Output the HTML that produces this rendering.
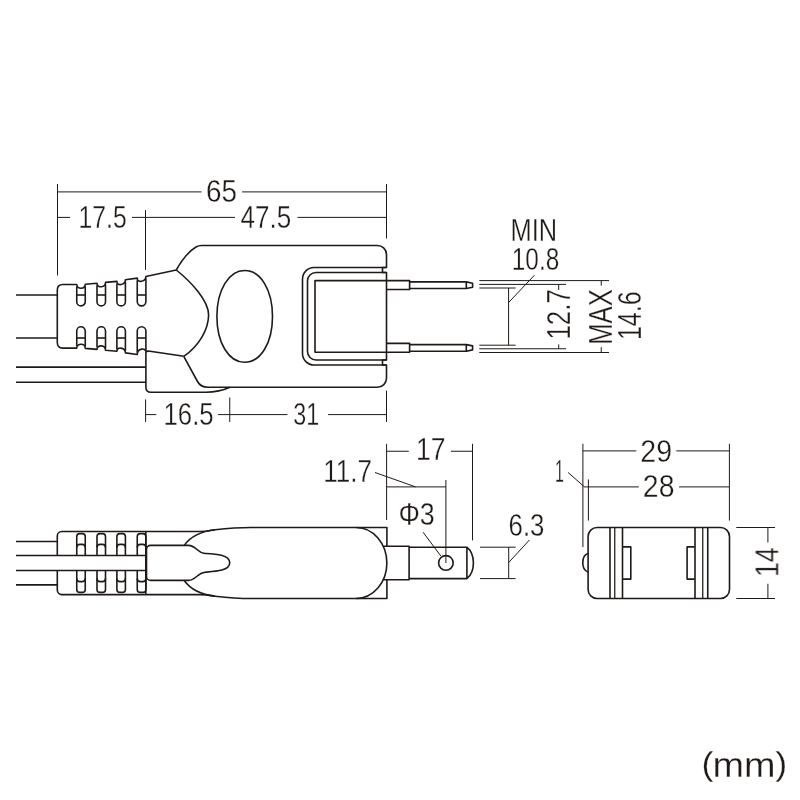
<!DOCTYPE html>
<html lang="ja">
<head>
<meta charset="utf-8">
<title>Plug dimensions (mm)</title>
<style>
html,body{margin:0;padding:0;background:#fff;}
body{width:800px;height:800px;overflow:hidden;}
svg{display:block;}
text{font-family:"Liberation Sans",sans-serif;fill:#1f1a17;stroke:#fff;stroke-width:0.3;stroke-linejoin:round;}
.o path{fill:none;stroke:#1f1a17;stroke-width:1.6;stroke-linejoin:round;stroke-linecap:butt;}
.d path{fill:none;stroke:#1f1a17;stroke-width:1.0;}
.m path{fill:none;stroke:#1f1a17;stroke-width:1.25;}
</style>
</head>
<body>
<svg width="800" height="800" viewBox="0 0 800 800">
<rect width="800" height="800" fill="#fff"/>
<g class="d">
<path d="M57.5 184V275.5 M57.5 191.9H201.6 M242.1 191.9H386.5 M386.5 184V238.5"/>
<path d="M57.5 217.4H70 M132 217.4H235 M297.5 217.4H386.5 M145.5 210V270"/>
<path d="M145.6 399.4V422 M145.6 414.6H156.3 M218.1 414.6H287.5 M328.1 414.6H386.5 M229.75 397.5V422 M386.5 390.6V422"/>
<path d="M479.3 280.6H609 M479.3 284.4H566 M479.3 288H515.6 M479.3 345.2H515.6 M479.3 348.75H566 M479.3 352.5H609"/>
<path d="M508.6 288V345.2 M508.6 302.5L534.4 275.25"/>
<path d="M558.7 284.4V290 M558.7 344.4V348.75 M601.25 280.6V285.6 M601.25 347.25V352.5"/>
<path d="M386.6 443.8V520 M472.5 443.8V540.4 M386.6 451.25H408.75 M451 451.25H472.6"/>
<path d="M386.6 486.9H445.9 M445.9 480V563 M375 472.5L415.6 486.9 M423.1 532.25L440.8 556"/>
<path d="M480 547.2H515.6 M480 578.6H515.6 M508.7 547.2V578.6 M508.7 562.5L529.4 540"/>
<path d="M582.9 443.8V547.1 M729.4 443.8V520.6 M582.9 450.9H636.3 M676.3 450.9H729.4"/>
<path d="M588.4 479.4V520.6 M583.8 486.9H638.8 M679.1 486.9H729.4 M568.1 472.5L583.8 486.3"/>
<path d="M736.3 527.5H775 M736.3 598.5H775 M767.9 527.5V542.5 M767.9 583.75V598.5"/>
</g>
<g class="m">
<path d="M614.75 527.5V598.5 M702.75 527.5V598.5"/>
</g>
<g class="o">
<path d="M16 295H57.3 M16 338H57.3 M16 367.1H145.9 M16 382.3H145.9"/>
<path d="M57.3 316.3V290Q57.3 284.5 62.8 284.5L76.75 284.5C76.75 289.7 85.25 289.45 85.25 284.25L97.0 283.25C97.0 288.45 105.5 287.6 105.5 282.4L116.9 281.4C116.9 286.6 125.4 284.95 125.4 279.75L137.25 278.15C137.25 283.35 145.9 281.7 145.9 276.5L176.25 270M57.3 316.3V342.6Q57.3 348.1 62.8 348.1L76.75 348.1C76.75 342.9 85.25 343.15 85.25 348.35L97.0 349.35C97.0 344.15 105.5 345.0 105.5 350.2L116.9 351.2C116.9 346.0 125.4 347.65 125.4 352.85L137.25 354.45C137.25 348.25 145.9 347.3 145.9 351.8"/>
<path d="M76.75 286.5V301.65A4.25 4.25 0 0 0 85.25 301.65V286.25"/>
<path d="M76.75 295H85.25"/>
<path d="M76.75 346.1V330.95A4.25 4.25 0 0 1 85.25 330.95V346.35"/>
<path d="M76.75 338H85.25"/>
<path d="M97.0 285.25V301.65A4.25 4.25 0 0 0 105.5 301.65V284.4"/>
<path d="M97.0 295H105.5"/>
<path d="M97.0 347.35V330.95A4.25 4.25 0 0 1 105.5 330.95V348.2"/>
<path d="M97.0 338H105.5"/>
<path d="M116.9 283.4V301.65A4.25 4.25 0 0 0 125.4 301.65V281.75"/>
<path d="M116.9 295H125.4"/>
<path d="M116.9 349.2V330.95A4.25 4.25 0 0 1 125.4 330.95V350.85"/>
<path d="M116.9 338H125.4"/>
<path d="M137.25 280.15V301.57A4.325000000000003 4.325000000000003 0 0 0 145.9 301.57V278.5"/>
<path d="M137.25 295H145.9"/>
<path d="M137.25 352.45V331.02A4.325000000000003 4.325000000000003 0 0 1 145.9 331.02V351"/>
<path d="M137.25 338H145.9"/>
<path d="M176.25 270C183 258 190 250.5 196 247C198 245.8 199.5 245.5 201.5 245.5H377.5A9 9 0 0 1 386.5 254.5V267.5H382.5V272.5H386.5V360H382.5V365H386.5V378.3A9 9 0 0 1 377.5 387.3H208C203 387.3 200 386 197.5 381.5L183.75 356.3"/>
<path d="M176.25 270C190 281 208.6 300 208.6 315C208.6 329 199 346 183.75 356.3"/>
<path d="M145.9 351.8V387.2Q145.9 392.2 150.9 392.2H206C215 392.2 223 390.5 230 387.3"/>
<path d="M145.9 351.8Q147 350.8 150 351.3L183.75 356.3"/>
<path d="M216.89999999999998 316.4C216.89999999999998 290.01 228.71 270.5 244.7 270.5C260.69 270.5 272.5 290.01 272.5 316.4C272.5 342.79 260.69 362.29999999999995 244.7 362.29999999999995C228.71 362.29999999999995 216.89999999999998 342.79 216.89999999999998 316.4Z"/>
<path d="M386.5 267.5H314A11.5 11.5 0 0 0 302.5 279V353.5A11.5 11.5 0 0 0 314 365H386.5"/>
<path d="M386.5 272.5H316A8.5 8.5 0 0 0 307.5 281V351.5A8.5 8.5 0 0 0 316 360H386.5"/>
<path d="M386.5 280.6H315V352.3H386.5"/>
<path d="M386.5 280.6H409.6V289.5H386.5"/>
<path d="M409.6 281.9H466.3L472.6 283.2V287.2L466.3 288.5H409.6"/>
<path d="M466.3 281.9V288.5"/>
<path d="M386.5 343.4H409.6V352.3H386.5"/>
<path d="M409.6 344.6H466.3L472.6 345.90000000000003V349.9L466.3 351.2H409.6"/>
<path d="M466.3 344.6V351.2"/>
<path d="M16 541.5H57.3 M16 584.9H57.3 M16 555.5H146 M16 570.5H146"/>
<path d="M215 529.8C210 530.6 206 531.5 200 531.5H61.8A4.5 4.5 0 0 0 57.3 536V555.5M57.3 570.5V590.1A4.5 4.5 0 0 0 61.8 594.6H200C206 594.6 210 595.4 215 596.2"/>
<path d="M145.8 531.5V594.6"/>
<path d="M76.75 555.5V536.6Q76.75 533.6 79.75 533.6H82.25Q85.25 533.6 85.25 536.6V555.5"/>
<path d="M76.75 547.6Q76.75 544.4 79.95 544.4H82.05Q85.25 544.4 85.25 547.6"/>
<path d="M76.75 570.5V589.4Q76.75 592.4 79.75 592.4H82.25Q85.25 592.4 85.25 589.4V570.5"/>
<path d="M76.75 578.4Q76.75 581.6 79.95 581.6H82.05Q85.25 581.6 85.25 578.4"/>
<path d="M97.0 555.5V536.6Q97.0 533.6 100.0 533.6H102.5Q105.5 533.6 105.5 536.6V555.5"/>
<path d="M97.0 547.6Q97.0 544.4 100.2 544.4H102.3Q105.5 544.4 105.5 547.6"/>
<path d="M97.0 570.5V589.4Q97.0 592.4 100.0 592.4H102.5Q105.5 592.4 105.5 589.4V570.5"/>
<path d="M97.0 578.4Q97.0 581.6 100.2 581.6H102.3Q105.5 581.6 105.5 578.4"/>
<path d="M116.9 555.5V536.6Q116.9 533.6 119.9 533.6H122.4Q125.4 533.6 125.4 536.6V555.5"/>
<path d="M116.9 547.6Q116.9 544.4 120.1 544.4H122.2Q125.4 544.4 125.4 547.6"/>
<path d="M116.9 570.5V589.4Q116.9 592.4 119.9 592.4H122.4Q125.4 592.4 125.4 589.4V570.5"/>
<path d="M116.9 578.4Q116.9 581.6 120.1 581.6H122.2Q125.4 581.6 125.4 578.4"/>
<path d="M137.25 555.5V536.6Q137.25 533.6 140.25 533.6H142.9Q145.9 533.6 145.9 536.6V555.5"/>
<path d="M137.25 547.6Q137.25 544.4 140.45 544.4H142.7Q145.9 544.4 145.9 547.6"/>
<path d="M137.25 570.5V589.4Q137.25 592.4 140.25 592.4H142.9Q145.9 592.4 145.9 589.4V570.5"/>
<path d="M137.25 578.4Q137.25 581.6 140.45 581.6H142.7Q145.9 581.6 145.9 578.4"/>
<path d="M188.5 545.4H150.5A4 4 0 0 0 146.5 549.4V576.4A4 4 0 0 0 150.5 580.4H188.5C196 580.4 197 573 205 572.2C215 571.5 229.7 571 229.7 562.8C229.7 554.5 215 554 205 553.5C197 552.8 196 545.4 188.5 545.4Z"/>
<path d="M184.4 545.2C191 536 203 531.2 215 529.8C230 528.1 240 527.5 251 527.5H386.9V546.25M386.9 579.75V598.5H251C240 598.5 230 597.9 215 596.2C203 594.8 191 590 184.4 580.8"/>
<path d="M356.25 527.5A30.65 35.5 0 0 1 356.25 598.5"/>
<path d="M383.2 546.25H409.1V579.75H383.2 M409.1 547.2H466.9V578.6H409.1 M466.9 547.2C471.5 551 473.4 557 473.4 562.9C473.4 568.8 471.5 574.8 466.9 578.6"/>
<path d="M438.6 562.9A7.3 7.3 0 1 0 453.2 562.9A7.3 7.3 0 1 0 438.6 562.9Z"/>
<path d="M597.1 527.5H720.5A9 9 0 0 1 729.5 536.5V589.5A9 9 0 0 1 720.5 598.5H597.1A9 9 0 0 1 588.1 589.5V536.5A9 9 0 0 1 597.1 527.5Z"/>
<path d="M610 527.5V598.5 M622.5 527.5V598.5 M695 527.5V598.5 M707.75 527.5V598.5"/>
<path d="M623 546.9H630.8V579.1H623 M694.5 546.9H687.1V579.1H694.5"/>
<path d="M588.1 553.6C581 555.6 581 570 588.1 572"/>
</g>
<g id="labels" opacity="0.999">
<text font-size="30" transform="translate(206.07,201.74) scale(0.929,1.038)">65</text>
<text font-size="30" transform="translate(78.62,227.84) scale(0.824,1.072)">17.5</text>
<text font-size="30" transform="translate(240.47,227.84) scale(0.869,1.072)">47.5</text>
<text font-size="30" transform="translate(163.54,425.34) scale(0.859,1.057)">16.5</text>
<text font-size="30" transform="translate(293.35,425.34) scale(0.778,1.057)">31</text>
<text font-size="30" transform="translate(510.59,240.76) scale(0.848,1.059)">MIN</text>
<text font-size="30" transform="translate(511.80,269.60) scale(0.812,1.031)">10.8</text>
<text font-size="30" transform="translate(415.97,459.91) scale(0.885,1.061)">17</text>
<text font-size="30" transform="translate(323.21,481.66) scale(0.870,1.054)">11.7</text>
<text font-size="30" transform="translate(398.39,524.84) scale(0.897,1.071)">Φ3</text>
<text font-size="30" transform="translate(508.58,536.34) scale(0.859,1.052)">6.3</text>
<text font-size="30" transform="translate(554.90,481.66) scale(0.533,1.066)">1</text>
<text font-size="30" transform="translate(640.33,461.74) scale(0.952,1.043)">29</text>
<text font-size="30" transform="translate(642.84,497.34) scale(0.947,1.043)">28</text>
<text font-size="35.2" transform="translate(0,776.5) scale(1.075,1)"><tspan x="652.6" y="-1.6" font-size="33.5">(</tspan><tspan x="662.8" y="0">mm</tspan><tspan x="721.1" y="-1.6" font-size="33.5">)</tspan></text>
<text font-size="30" transform="translate(569.56,339.57) rotate(-90) scale(0.864,1.087)">12.7</text>
<text font-size="30" transform="translate(612.06,344.67) rotate(-90) scale(0.852,1.086)">MAX</text>
<text font-size="30" transform="translate(640.84,340.11) rotate(-90) scale(0.837,1.090)">14.6</text>
<text font-size="30" transform="translate(778.27,577.15) rotate(-90) scale(0.897,1.103)">14</text>
</g>
</svg>
</body>
</html>
